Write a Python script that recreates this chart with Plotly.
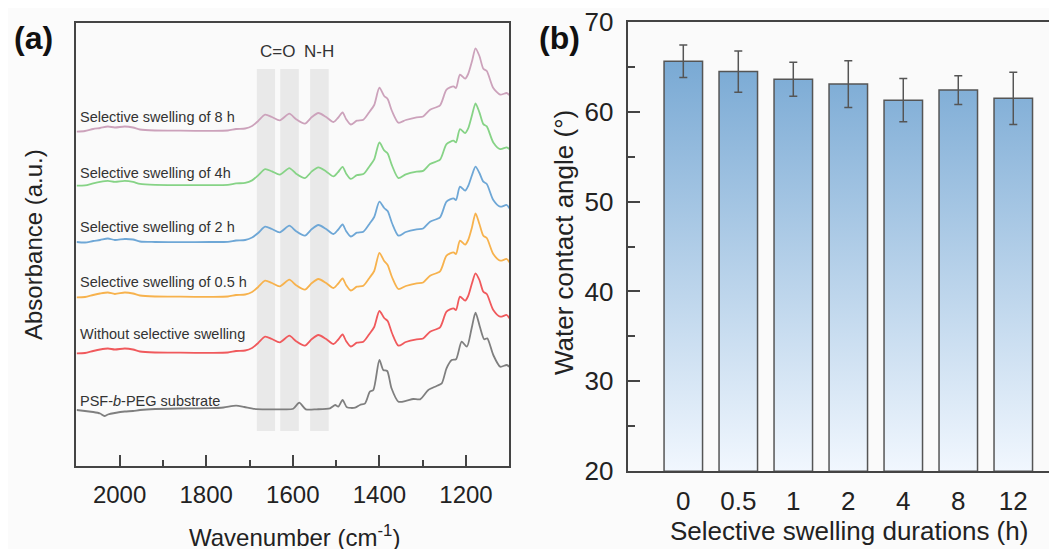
import plotly.graph_objects as go

# ---------------- Panel (a): FTIR spectra ----------------
wavenumber = [2099, 2080, 2061, 2045, 2027, 2011, 1988, 1969, 1953, 1918, 1860, 1791, 1750, 1731, 1710,
              1694, 1680, 1664, 1648, 1630, 1608, 1593, 1572, 1556, 1541, 1523, 1506, 1496, 1485, 1477,
              1466, 1452, 1437, 1422, 1412, 1400, 1389, 1381, 1371, 1356, 1339, 1314, 1299, 1283, 1260,
              1245, 1229, 1223, 1214, 1202, 1195, 1186, 1178, 1169, 1160, 1152, 1137, 1121, 1106, 1100]

without_swelling = [11.27, 11.3, 11.5, 11.65, 11.75, 11.65, 11.75, 11.65, 11.45, 11.35, 11.33, 11.32, 11.35, 11.5, 11.55,
                    11.8, 12.3, 12.93, 12.7, 12.37, 13.03, 12.5, 12.03, 12.7, 13.1, 12.7, 12.2, 12.6, 13.15, 12.5,
                    11.95, 12.33, 12.43, 13.27, 13.9, 15.5, 14.8, 14.5, 13.3, 12.03, 12.4, 12.67, 12.75, 13.43, 13.87,
                    15.43, 15.77, 15.6, 16.93, 16.53, 17.0, 18.3, 19.27, 18.6, 17.43, 17.2, 15.6, 14.93, 15.1, 14.77]

swelling_0_5h = [16.87, 16.9, 17.1, 17.25, 17.35, 17.2, 17.35, 17.25, 17.05, 16.95, 16.93, 16.92, 16.95, 17.1, 17.15,
                 17.4, 17.9, 18.53, 18.3, 17.97, 18.63, 18.1, 17.63, 18.3, 18.7, 18.3, 17.8, 18.2, 18.75, 18.1,
                 17.55, 17.93, 18.03, 18.87, 19.5, 21.3, 20.5, 20.1, 18.9, 17.7, 18.0, 18.27, 18.35, 19.03, 19.47,
                 21.03, 21.37, 21.2, 22.53, 22.13, 22.6, 23.9, 25.27, 24.2, 23.03, 22.8, 21.2, 20.53, 20.7, 20.37]

swelling_2h = [22.4, 22.35, 22.5, 22.6, 22.75, 22.6, 22.7, 22.65, 22.45, 22.4, 22.38, 22.4, 22.42, 22.55, 22.6,
               22.85, 23.3, 23.93, 23.7, 23.37, 24.03, 23.5, 23.03, 23.7, 24.1, 23.7, 23.2, 23.6, 24.15, 23.5,
               22.95, 23.33, 23.43, 24.27, 24.9, 26.43, 25.8, 25.5, 24.3, 23.03, 23.4, 23.67, 23.75, 24.43, 24.87,
               26.43, 26.77, 26.6, 27.93, 27.53, 28.0, 29.1, 29.93, 29.3, 28.43, 28.2, 26.6, 25.93, 26.1, 25.77]

swelling_4h = [28.03, 28.06, 28.26, 28.41, 28.51, 28.41, 28.51, 28.41, 28.21, 28.11, 28.09, 28.08, 28.11, 28.26, 28.31,
               28.56, 29.06, 29.69, 29.46, 29.13, 29.79, 29.26, 28.79, 29.46, 29.86, 29.46, 28.96, 29.36, 29.91, 29.26,
               28.71, 29.09, 29.19, 30.03, 30.66, 32.35, 31.56, 31.26, 30.06, 28.79, 29.16, 29.43, 29.51, 30.19, 30.63,
               32.19, 32.53, 32.36, 33.69, 33.29, 33.76, 35.1, 36.27, 35.36, 34.19, 33.96, 32.36, 31.69, 31.86, 31.7]

swelling_8h = [33.43, 33.5, 33.7, 33.8, 33.95, 33.85, 33.95, 33.85, 33.65, 33.55, 33.53, 33.52, 33.55, 33.7, 33.75,
               34.0, 34.5, 35.13, 34.9, 34.57, 35.23, 34.7, 34.23, 34.9, 35.3, 34.9, 34.4, 34.8, 35.35, 34.7,
               34.15, 34.53, 34.63, 35.47, 36.1, 37.83, 37.0, 36.7, 35.5, 34.33, 34.6, 34.87, 34.95, 35.63, 36.07,
               37.63, 37.97, 37.8, 39.13, 38.73, 39.2, 40.5, 41.77, 41.0, 39.73, 39.5, 37.8, 37.13, 37.3, 37.1]

substrate_wavenumber = [2099, 2080, 2061, 2045, 2035, 2027, 2011, 1988, 1969, 1953, 1918, 1860, 1791, 1760, 1731,
                        1712, 1690, 1660, 1620, 1599, 1585, 1570, 1545, 1514, 1502, 1495, 1485, 1475, 1456, 1445,
                        1433, 1422, 1414, 1400, 1391, 1382, 1372, 1356, 1337, 1322, 1306, 1287, 1268, 1256, 1245,
                        1233, 1223, 1210, 1198, 1187, 1178, 1168, 1158, 1151, 1137, 1121, 1106, 1100]
substrate = [5.6, 5.5, 5.4, 5.25, 5.0, 5.15, 5.3, 5.45, 5.5, 5.6, 5.7, 5.75, 5.78, 5.85, 6.03,
             5.9, 5.72, 5.67, 5.67, 5.73, 6.33, 5.67, 5.67, 5.77, 6.1, 5.93, 6.6, 5.87, 5.83, 6.1,
             6.27, 7.43, 7.6, 10.6, 9.6, 9.5, 7.77, 6.43, 6.53, 6.7, 6.67, 7.6, 8.0, 8.27, 9.77,
             10.6, 10.67, 12.43, 11.93, 13.77, 15.33, 13.93, 12.67, 12.77, 11.1, 9.93, 10.1, 9.93]

spectrum_labels = ["Selective swelling of 8 h", "Selective swelling of 4h", "Selective swelling of 2 h",
                   "Selective swelling of 0.5 h", "Without selective swelling", "PSF-<i>b</i>-PEG substrate"]
label_levels = [34.93, 29.33, 23.93, 18.43, 13.2, 6.53]

band_edges = [(1683, 1641), (1629, 1586), (1560, 1517)]
band_names = ["C=O", "N-H"]
band_name_pos = [1635, 1539]

x_ticks_a = [2000, 1800, 1600, 1400, 1200]

# ---------------- Panel (b): contact angle ----------------
durations = ["0", "0.5", "1", "2", "4", "8", "12"]
contact_angle = [65.6, 64.45, 63.6, 63.07, 61.27, 62.4, 61.48]
contact_err = [1.8, 2.3, 1.9, 2.6, 2.4, 1.6, 2.9]

# ---------------- styles ----------------
FONT = "Liberation Sans, Arial, sans-serif"
AX = "#444444"
OFF = 8                      # page body margin of the html page
W, H = 1057 - OFF, 549 - OFF
colors = {
    "8h": "#cca2bb", "4h": "#86d386", "2h": "#6ea7d6", "0.5h": "#f7b24d",
    "0h": "#f0595c", "sub": "#7f7f7f",
}


def fx(px):
    return (px - OFF) / W


def fy(py):
    return (H - (py - OFF)) / H


fig = go.Figure()

series = [
    (swelling_8h, colors["8h"]), (swelling_4h, colors["4h"]), (swelling_2h, colors["2h"]),
    (swelling_0_5h, colors["0.5h"]), (without_swelling, colors["0h"]),
]
for ys, c in series:
    fig.add_trace(go.Scatter(x=wavenumber, y=ys, mode="lines", xaxis="x", yaxis="y",
                             line=dict(color=c, width=1.8, shape="spline", smoothing=0.7),
                             showlegend=False, hoverinfo="skip"))
fig.add_trace(go.Scatter(x=substrate_wavenumber, y=substrate, mode="lines", xaxis="x", yaxis="y",
                         line=dict(color=colors["sub"], width=1.8, shape="spline", smoothing=0.7),
                         showlegend=False, hoverinfo="skip"))

# bars of panel (b) as gradient-filled polygons
half = 0.35
for i, v in enumerate(contact_angle):
    fig.add_trace(go.Scatter(
        x=[i - half, i - half, i + half, i + half, i - half],
        y=[20, v, v, 20, 20], mode="lines", fill="toself", xaxis="x2", yaxis="y2",
        line=dict(color="#555555", width=1.5),
        fillgradient=dict(type="vertical", start=20, stop=70,
                          colorscale=[[0, "#f1f7fe"], [1, "#6ea2d0"]]),
        showlegend=False, hoverinfo="skip"))
fig.add_trace(go.Scatter(
    x=list(range(len(durations))), y=contact_angle, mode="markers", xaxis="x2", yaxis="y2",
    marker=dict(size=2, color="rgba(0,0,0,0)"),
    error_y=dict(type="data", array=contact_err, color="#555555", thickness=1.5, width=4),
    showlegend=False, hoverinfo="skip"))

shapes = []
for a, b in band_edges:
    shapes.append(dict(type="rect", xref="x", yref="y", x0=a, x1=b, y0=3.5, y1=39.7,
                       fillcolor="#e9e9e9", line=dict(width=0), layer="below"))

ann = []
for t, y in zip(spectrum_labels, label_levels):
    ann.append(dict(x=2096, y=y, xref="x", yref="y", text=t, showarrow=False, xanchor="left",
                    yanchor="middle", font=dict(family=FONT, size=14.5, color="#333333")))
for t, x in zip(band_names, band_name_pos):
    ann.append(dict(x=x, y=41.43, xref="x", yref="y", text=t, showarrow=False, xanchor="center",
                    yanchor="middle", font=dict(family=FONT, size=17, color="#333333")))

paper_texts = [
    ("<b>(a)</b>", 33, 38, 0, 32, "#111111"),
    ("<b>(b)</b>", 560, 38, 0, 32, "#111111"),
    ("Wavenumber (cm<sup>-1</sup>)", 294, 536, 0, 24, "#222222"),
    ("Absorbance (a.u.)", 33, 245, -90, 24, "#222222"),
    ("Selective swelling durations (h)", 849, 531, 0, 26, "#222222"),
    ("Water contact angle (°)", 564, 243, -90, 26, "#222222"),
]
for t, px, py, ang, sz, col in paper_texts:
    ann.append(dict(x=fx(px), y=fy(py), xref="paper", yref="paper", text=t, showarrow=False, textangle=ang,
                    xanchor="center", yanchor="middle", font=dict(family=FONT, size=sz, color=col)))

fig.update_layout(
    template="none",
    width=W, height=H, margin=dict(l=0, r=0, t=0, b=0, pad=0), autosize=False,
    paper_bgcolor="#fbfbfb", plot_bgcolor="#fafafa",
    font=dict(family=FONT, color="#222222"),
    shapes=shapes, annotations=ann, showlegend=False,
    xaxis=dict(domain=[fx(76.3), fx(509.3)], range=[2100, 1100], anchor="y", automargin=False,
               tickmode="array", tickvals=x_ticks_a, ticks="inside", ticklen=11, tickwidth=1.5, tickcolor=AX,
               minor=dict(ticks="inside", ticklen=6, dtick=100, tick0=2100, tickwidth=1.5, tickcolor=AX),
               showline=True, linecolor=AX, linewidth=1.5, mirror=True, showgrid=False, zeroline=False,
               tickfont=dict(family=FONT, size=24, color="#222222"), ticklabelstandoff=6),
    yaxis=dict(domain=[fy(466), fy(22.7)], range=[0, 44.33], anchor="x", automargin=False,
               showticklabels=False, ticks="", showline=True, linecolor=AX, linewidth=1.5, mirror=True,
               showgrid=False, zeroline=False),
    xaxis2=dict(domain=[fx(628.3), 1.0], range=[-1, 6.795], anchor="y2", automargin=False,
                tickmode="array", tickvals=list(range(len(durations))), ticktext=durations, ticks="",
                showline=True, linecolor=AX, linewidth=1.5, mirror=True, showgrid=False, zeroline=False,
                tickfont=dict(family=FONT, size=26, color="#222222"), ticklabelstandoff=6),
    yaxis2=dict(domain=[fy(471.3), fy(21.7)], range=[20, 70], anchor="x2", automargin=False,
                dtick=10, ticks="inside", ticklen=12, tickwidth=1.5, tickcolor=AX,
                minor=dict(ticks="inside", ticklen=7, dtick=5, tickwidth=1.5, tickcolor=AX),
                showline=True, linecolor=AX, linewidth=1.5, mirror=False, showgrid=False, zeroline=False,
                ticklabeloverflow="allow",
                tickfont=dict(family=FONT, size=26, color="#222222"), ticklabelstandoff=8),
)

fig.write_html("out.html")
